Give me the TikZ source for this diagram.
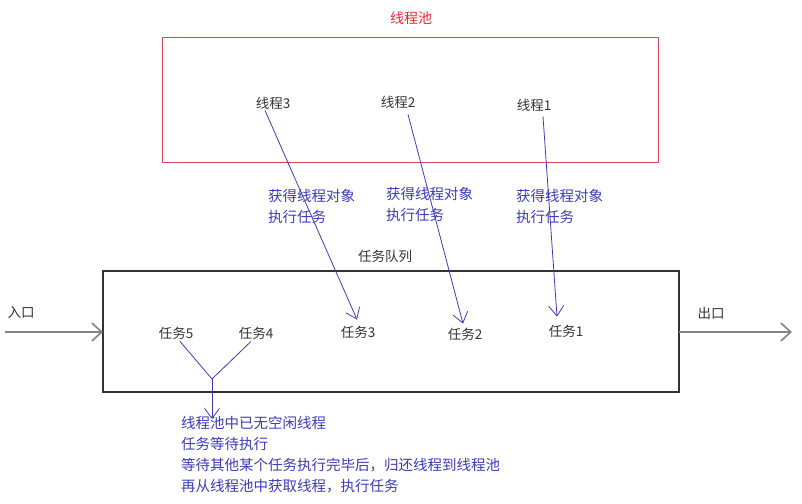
\documentclass[tikz,border=0pt]{standalone}
\usepackage{fontspec}
\setmainfont{Noto Sans CJK SC}
\usetikzlibrary{arrows.meta}
\definecolor{tblue}{RGB}{60,60,180}
\definecolor{pred}{RGB}{215,70,90}
\definecolor{tred}{RGB}{225,40,60}
\definecolor{gline}{RGB}{130,130,130}
\tikzset{
  txt/.style={font=\fontsize{13.5}{16}\selectfont, inner sep=1pt, text=black!80},
  btxt/.style={font=\fontsize{14.5}{21}\selectfont, inner sep=1pt, text=tblue, align=left},
  barrow/.style={draw=tblue, line width=0.8pt, -{Straight Barb[length=10pt,width=15pt]}},
  garrow/.style={draw=gline, line width=1.6pt, -{Straight Barb[length=10pt,width=18pt]}},
}
\begin{document}
\begin{tikzpicture}[x=1pt,y=-1pt]
\useasboundingbox (0,0) rectangle (802,503);
% thread pool
\node[font=\fontsize{14}{16}\selectfont, text=tred, inner sep=1pt] (pooltitle) at (411,18) {线程池};
\draw[pred, line width=1pt] (162,38) rectangle (658,162);
\node[txt] (t3) at (273,103) {线程3};
\node[txt] (t2) at (398,102) {线程2};
\node[txt] (t1) at (534,105) {线程1};
% queue
\node[txt] (qtitle) at (385,256) {任务队列};
\draw[black!80, line width=1.1pt] (103,271) rectangle (679,392);
\coordinate (qleft) at (103,332);
\coordinate (qright) at (679,332);
\coordinate (inend) at (5,332);
\coordinate (outend) at (792,332);
\node[txt] (inlabel) at (21,312) {入口};
\node[txt] (outlabel) at (711,313) {出口};
\draw[garrow] (inend) -- (qleft);
\draw[garrow] (qright) -- (outend);
\node[txt] (k5) at (176,333) {任务5};
\node[txt] (k4) at (256,333) {任务4};
\node[txt] (k3) at (358,332) {任务3};
\node[txt] (k2) at (465,334) {任务2};
\node[txt] (k1) at (566,331) {任务1};
% thread -> task
\draw[barrow] ([xshift=-8pt]t3.south) -- ([xshift=-1pt,yshift=5pt]k3.north);
\draw[barrow] ([xshift=10pt,yshift=-5pt]t2.south) -- ([xshift=-2pt,yshift=3pt]k2.north);
\draw[barrow] ([xshift=9pt,yshift=-4pt]t1.south) -- ([xshift=-9pt,yshift=7pt]k1.north);
\node[btxt, anchor=north west] (l3) at (267,188) {获得线程对象\\执行任务};
\node[btxt, anchor=north west] (l2) at (385,186) {获得线程对象\\执行任务};
\node[btxt, anchor=north west] (l1) at (515,188) {获得线程对象\\执行任务};
% waiting tasks
\coordinate (fork) at (212,379);
\draw[tblue, line width=0.8pt] ([xshift=4pt,yshift=-1pt]k5.south) -- (fork);
\draw[tblue, line width=0.8pt] ([xshift=-5pt,yshift=-1pt]k4.south) -- (fork);
\node[btxt, anchor=north west] (wait) at (180,415) {线程池中已无空闲线程\\任务等待执行\\等待其他某个任务执行完毕后，归还线程到线程池\\再从线程池中获取线程，执行任务};
\draw[barrow] (fork) -- ([yshift=-4pt]fork |- wait.north);
\end{tikzpicture}
\end{document}
